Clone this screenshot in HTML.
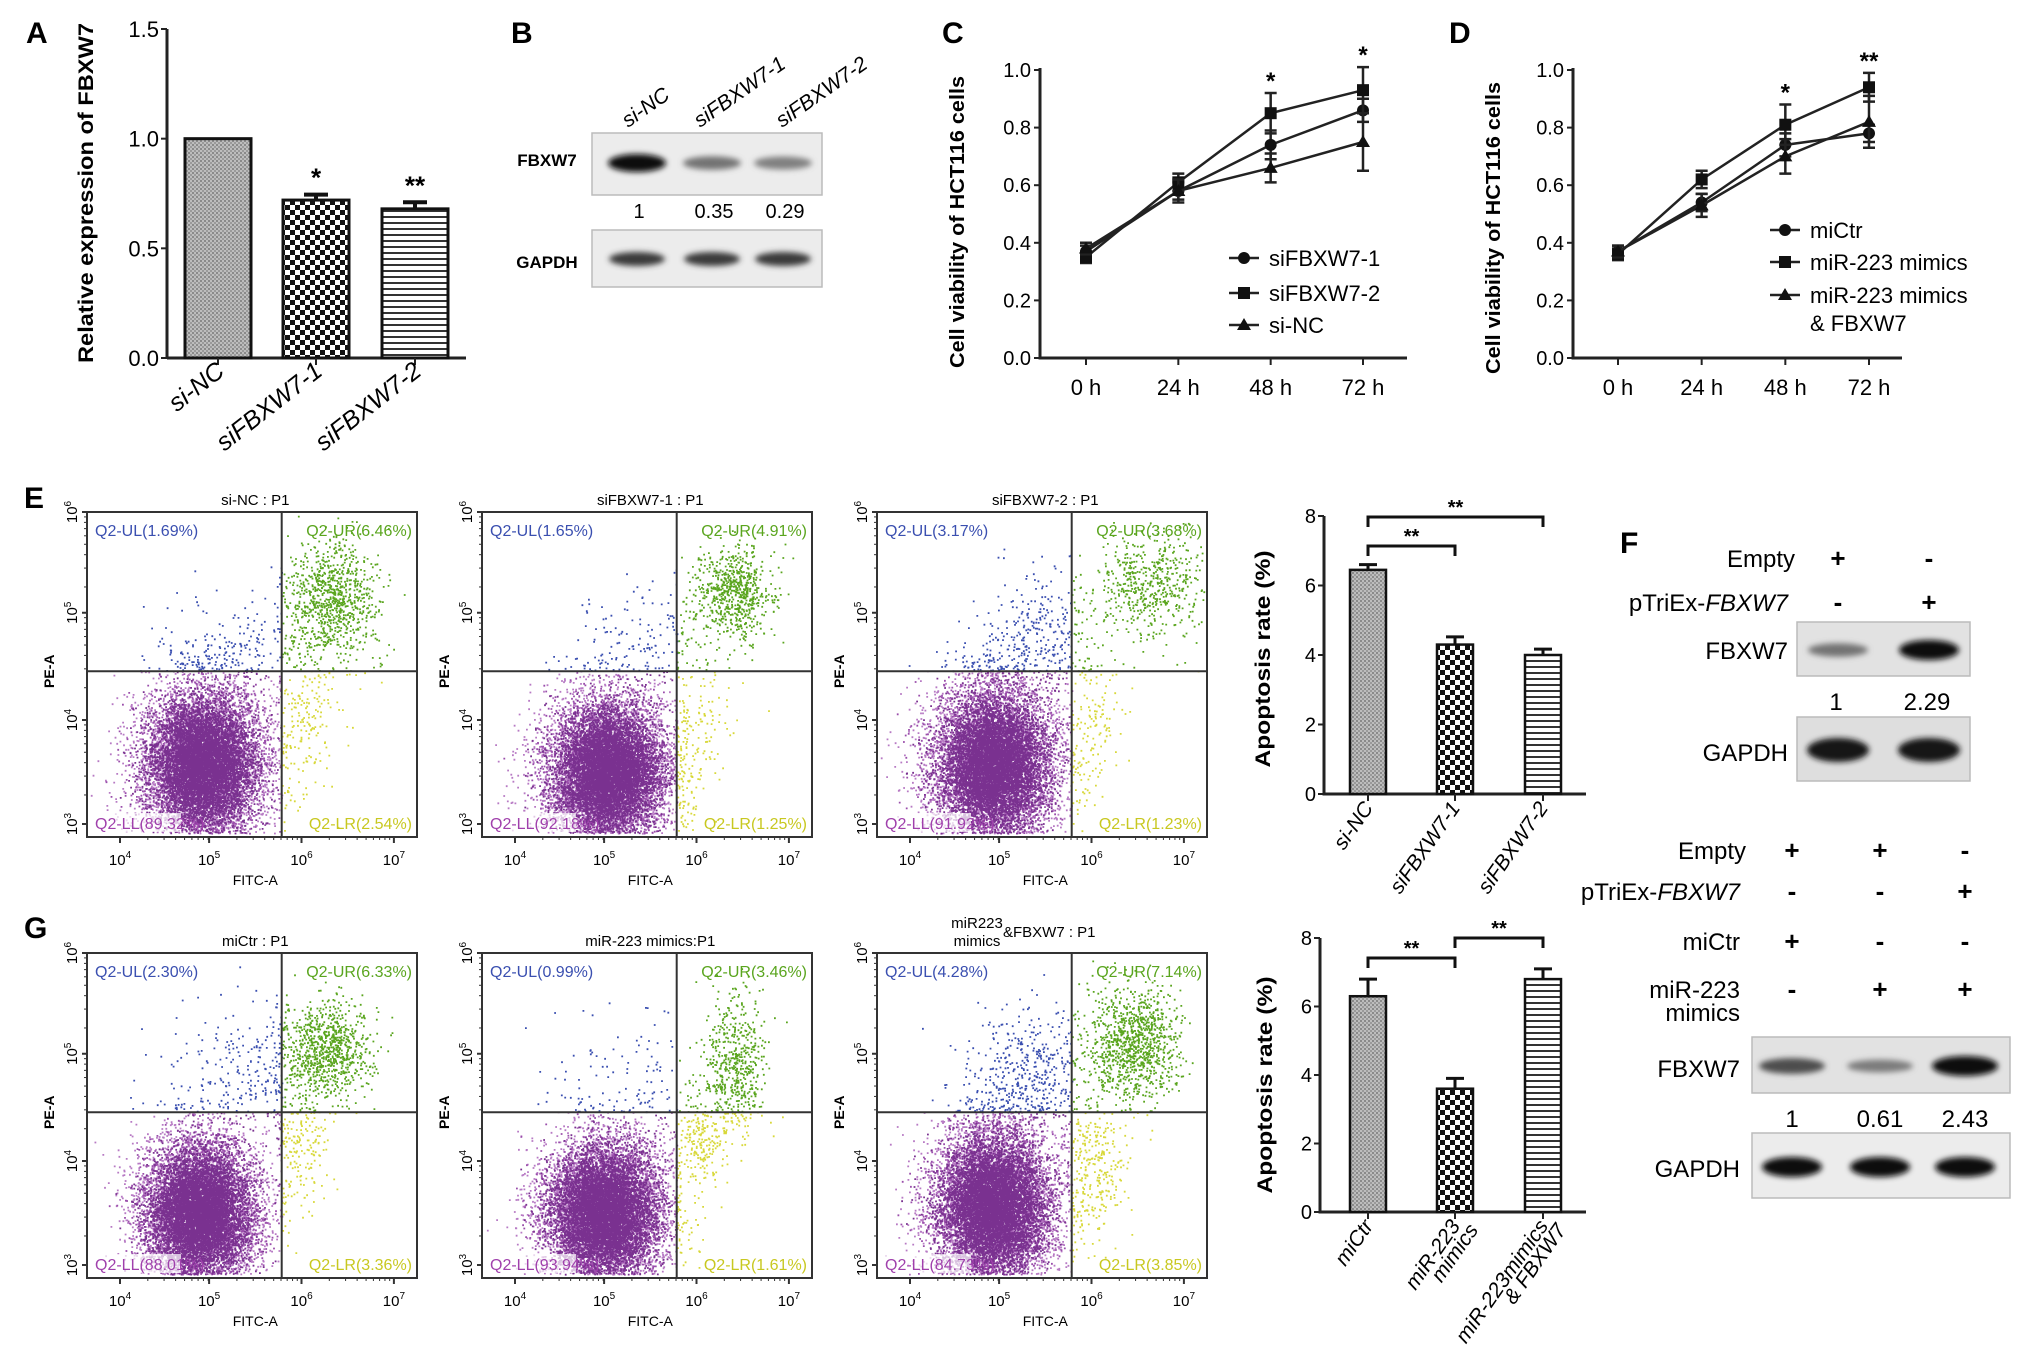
<!DOCTYPE html>
<html><head><meta charset="utf-8">
<style>
html,body{margin:0;padding:0;background:#fff;}
svg{display:block;font-family:"Liberation Sans",Arial,sans-serif;}
.n{font-family:"Liberation Sans Narrow","Liberation Sans",sans-serif;}
</style></head>
<body>
<svg id="fig" width="2031" height="1352" viewBox="0 0 2031 1352" xmlns="http://www.w3.org/2000/svg">
<defs>
<pattern id="patNC" width="4" height="4" patternUnits="userSpaceOnUse"><rect width="4" height="4" fill="#bdbdbd"/><rect width="2" height="2" fill="#8a8a8a"/><rect x="2" y="2" width="2" height="2" fill="#9a9a9a"/></pattern>
<pattern id="patChk" width="10" height="10" patternUnits="userSpaceOnUse"><rect width="10" height="10" fill="#fff"/><rect width="5" height="5" fill="#111"/><rect x="5" y="5" width="5" height="5" fill="#111"/></pattern>
<pattern id="patStr" width="6" height="6" patternUnits="userSpaceOnUse"><rect width="6" height="6" fill="#fff"/><rect y="0" width="6" height="2" fill="#333"/></pattern>
<filter id="blur" x="-50%" y="-50%" width="200%" height="200%"><feGaussianBlur stdDeviation="3"/></filter>
</defs>

<g font-weight="bold" font-size="30">
<text x="26" y="43">A</text>
<text x="511" y="43">B</text>
<text x="942" y="43">C</text>
<text x="1449" y="43">D</text>
<text x="24" y="508">E</text>
<text x="1620" y="553">F</text>
<text x="24" y="938">G</text>
</g>

<g id="gA"></g>
<g id="gB">
<text x="547" y="166" font-size="17" font-weight="bold" text-anchor="middle" class="n">FBXW7</text>
<text x="547" y="268" font-size="17" font-weight="bold" text-anchor="middle" class="n">GAPDH</text>
<text transform="translate(628,128) rotate(-35)" font-size="21" font-style="italic" class="n">si-NC</text>
<text transform="translate(700,128) rotate(-35)" font-size="21" font-style="italic" class="n">siFBXW7-1</text>
<text transform="translate(782,128) rotate(-35)" font-size="21" font-style="italic" class="n">siFBXW7-2</text>
</g>
<g id="gFlow"></g>
<g id="gC"></g>
<g id="gD"></g>
<g id="gE"></g>
<g id="gG"></g>
<g id="gF">
<g font-size="24" class="n" text-anchor="end">
<text x="1795" y="567">Empty</text>
<text x="1788" y="611">pTriEx-<tspan font-style="italic">FBXW7</tspan></text>
<text x="1788" y="659">FBXW7</text>
<text x="1788" y="761">GAPDH</text>
<text x="1746" y="859">Empty</text>
<text x="1740" y="900">pTriEx-<tspan font-style="italic">FBXW7</tspan></text>
<text x="1740" y="950">miCtr</text>
<text x="1740" y="998">miR-223</text>
<text x="1740" y="1021">mimics</text>
<text x="1740" y="1077">FBXW7</text>
<text x="1740" y="1177">GAPDH</text>
</g>
</g>
</svg>

<script>
var SVGNS='http://www.w3.org/2000/svg';
function mk(tag,attrs,parent){var e=document.createElementNS(SVGNS,tag);for(var k in attrs)e.setAttribute(k,attrs[k]);if(parent)parent.appendChild(e);return e;}
function txt(s,attrs,parent){var e=mk('text',attrs,parent);e.textContent=s;return e;}

/* ---------------- Panel A data ---------------- */
var aCategories=['si-NC','siFBXW7-1','siFBXW7-2'];
var aValues=[1.0,0.72,0.68];
var aErrors=[0.0,0.025,0.03];
var aStars=['','*','**'];
var aTicks=[0,0.5,1.0,1.5];
var aTickLabels=['0.0','0.5','1.0','1.5'];

/* ---------------- Panel B data ---------------- */
var bLanes=['si-NC','siFBXW7-1','siFBXW7-2'];
var bRatios=['1','0.35','0.29'];
var bFbxw7Intensity=[1.0,0.45,0.38];

/* ---------------- Panel C data ---------------- */
var cTimes=['0 h','24 h','48 h','72 h'];
var cSeriesNames=['siFBXW7-1','siFBXW7-2','si-NC'];
var cSi1=[0.37,0.58,0.74,0.86];
var cSi2=[0.35,0.61,0.85,0.93];
var cNC=[0.38,0.58,0.66,0.75];
var cSi1Err=[0.02,0.03,0.05,0.04];
var cSi2Err=[0.02,0.03,0.07,0.08];
var cNCErr=[0.02,0.04,0.05,0.10];
var cStars=['','','*','*'];
var lineTicks=[0,0.2,0.4,0.6,0.8,1.0];
var lineTickLabels=['0.0','0.2','0.4','0.6','0.8','1.0'];

/* ---------------- Panel D data ---------------- */
var dTimes=['0 h','24 h','48 h','72 h'];
var dSeriesNames=['miCtr','miR-223 mimics','miR-223 mimics & FBXW7'];
var dMiCtr=[0.37,0.54,0.74,0.78];
var dMimics=[0.36,0.62,0.81,0.94];
var dCombo=[0.37,0.53,0.70,0.82];
var dMiCtrErr=[0.02,0.03,0.04,0.03];
var dMimicsErr=[0.02,0.03,0.07,0.05];
var dComboErr=[0.02,0.04,0.06,0.09];
var dStars=['','','*','**'];

/* ---------------- Panel E / G bar data ---------------- */
var eCategories=['si-NC','siFBXW7-1','siFBXW7-2'];
var eValues=[6.45,4.3,4.0];
var eErrors=[0.15,0.22,0.17];
var gCategories=['miCtr','miR-223 mimics','miR-223mimics & FBXW7'];
var gValues=[6.3,3.6,6.8];
var gErrors=[0.5,0.3,0.3];
var apTicks=[0,2,4,6,8];

/* ---------------- Panel F data ---------------- */
var f1Ratios=['1','2.29'];
var f1Intensity=[0.45,1.0];
var f2Ratios=['1','0.61','2.43'];
var f2Intensity=[0.65,0.4,1.0];

/* ---------------- Flow percentages ---------------- */
var flowTitles=['si-NC : P1','siFBXW7-1 : P1','siFBXW7-2 : P1','miCtr : P1','miR-223 mimics:P1',''];
var flowUL=['1.69','1.65','3.17','2.30','0.99','4.28'];
var flowUR=['6.46','4.91','3.68','6.33','3.46','7.14'];
var flowLL=['89.32','92.18','91.92','88.01','93.94','84.73'];
var flowLR=['2.54','1.25','1.23','3.36','1.61','3.85'];

/* ===== Panel A ===== */
(function(){
 var g=document.getElementById('gA');
 var X0=167,Y0=358,Y1=29,XE=466;
 function y(v){return Y0-(v/1.5)*(Y0-Y1);}
 var cx=[218,316,415],bw=66,fills=['url(#patNC)','url(#patChk)','url(#patStr)'];
 var ax=mk('line',{x1:X0,y1:Y1,x2:X0,y2:Y0,stroke:'#222','stroke-width':3},g);
 
 var xa=mk('line',{x1:X0,y1:Y0,x2:XE,y2:Y0,stroke:'#222','stroke-width':3},g);
 
 aTicks.forEach(function(t,i){
  mk('line',{x1:X0-6,y1:y(t),x2:X0,y2:y(t),stroke:'#222','stroke-width':2},g);
  var tl=txt(aTickLabels[i],{x:X0-8,y:y(t)+8,'font-size':22,'text-anchor':'end','class':'n'},g);
  
 });
 aCategories.forEach(function(c,i){
  var top=y(aValues[i]);
  var r=mk('rect',{x:cx[i]-bw/2,y:top,width:bw,height:Y0-top,fill:fills[i],stroke:'#111','stroke-width':3},g);
  
  if(aErrors[i]>0){
   var e=mk('path',{d:'M'+cx[i]+' '+top+'V'+y(aValues[i]+aErrors[i])+'M'+(cx[i]-12)+' '+y(aValues[i]+aErrors[i])+'H'+(cx[i]+12),stroke:'#111','stroke-width':4,fill:'none'},g);
   
  }
  mk('line',{x1:cx[i],y1:Y0,x2:cx[i],y2:Y0+7,stroke:'#222','stroke-width':2},g);
  if(aStars[i]){var s=txt(aStars[i],{x:cx[i],y:y(aValues[i]+aErrors[i])-8,'font-size':26,'text-anchor':'middle','font-weight':'bold'},g);
   }
  var l=txt(c,{transform:'translate('+(cx[i]+8)+','+(Y0+16)+') rotate(-38)','font-size':25,'text-anchor':'end','font-style':'italic','class':'n'},g);
  
 });
 var yl=txt('Relative expression of FBXW7',{transform:'translate(93,193) rotate(-90)','font-size':21,'font-weight':'bold','text-anchor':'middle',textLength:340,lengthAdjust:'spacingAndGlyphs'},g);
 
})();

/* ===== Blot helpers ===== */
function blotBox(g,x,y,w,h,name,fill){var r=mk('rect',{x:x,y:y,width:w,height:h,fill:fill||'#ececec',stroke:'#bbb','stroke-width':1.5},g);
 return r;}
function band(g,cx,cy,w,h,inten,name){var c=Math.round(200-190*inten);
 var e=mk('ellipse',{cx:cx,cy:cy,rx:w/2,ry:h/2,fill:'rgb('+c+','+c+','+c+')',filter:'url(#blur)'},g);
 }

/* ===== Panel B ===== */
(function(){
 var g=document.getElementById('gB');
 var lx=[637,712,783];
 var b1=blotBox(g,592,133,230,62,'b-fbxw7-blot');g.insertBefore(b1,g.firstChild);
 var b2=blotBox(g,592,230,230,57,'b-gapdh-blot');g.insertBefore(b2,g.firstChild);
 bLanes.forEach(function(l,i){
  band(g,lx[i],163,58,10+8*bFbxw7Intensity[i],bFbxw7Intensity[i],'b-fbxw7-band');
  band(g,lx[i],259,56,14,0.75,'b-gapdh-band');
  var t=txt(bRatios[i],{x:lx[i]+2,y:218,'font-size':20,'text-anchor':'middle','class':'n'},g);
  
 });
})();

/* ===== Line charts ===== */
function marker(g,type,x,y,name){var el;
 if(type==='c')el=mk('circle',{cx:x,cy:y,r:6,fill:'#111'},g);
 else if(type==='s')el=mk('rect',{x:x-6,y:y-6,width:12,height:12,fill:'#111'},g);
 else el=mk('path',{d:'M'+x+' '+(y-7)+'L'+(x+7)+' '+(y+5)+'L'+(x-7)+' '+(y+5)+'Z',fill:'#111'},g);
 }
function lineChart(g,pre,X0,XT,XE,times,series,errs,types,stars,legendNames,legX,legY,ylabX,ylabY,ylabLen){
 var Y0=358,Y1=70;
 function y(v){return Y0-v*(Y0-Y1);}
 function x(i){return XT[0]+i*(XT[1]-XT[0])/(times.length-1);}
 var a=mk('path',{d:'M'+X0+' '+(Y1-2)+'V'+Y0+'H'+XE,stroke:'#222','stroke-width':3,fill:'none'},g);
 
 lineTicks.forEach(function(t,i){mk('line',{x1:X0-6,y1:y(t),x2:X0,y2:y(t),stroke:'#222','stroke-width':2},g);
  var tl=txt(lineTickLabels[i],{x:X0-9,y:y(t)+7,'font-size':20,'text-anchor':'end','class':'n'},g);
  });
 times.forEach(function(t,i){mk('line',{x1:x(i),y1:Y0,x2:x(i),y2:Y0+7,stroke:'#222','stroke-width':2},g);
  var tl=txt(t,{x:x(i),y:395,'font-size':22,'text-anchor':'middle','class':'n'},g);
  });
 series.forEach(function(s,k){
  var d='';s.forEach(function(v,i){d+=(i?'L':'M')+x(i)+' '+y(v);});
  var p=mk('path',{d:d,stroke:'#222','stroke-width':2.5,fill:'none'},g);
  
  s.forEach(function(v,i){var e=errs[k][i];
   var eb=mk('path',{d:'M'+x(i)+' '+y(v-e)+'V'+y(v+e)+'M'+(x(i)-6)+' '+y(v-e)+'H'+(x(i)+6)+'M'+(x(i)-6)+' '+y(v+e)+'H'+(x(i)+6),stroke:'#222','stroke-width':2.5,fill:'none'},g);
   
   marker(g,types[k],x(i),y(v),pre+'-point');});
 });
 stars.forEach(function(st,i){if(!st)return;var top=0;series.forEach(function(s,k){top=Math.max(top,s[i]+errs[k][i]);});
  var t=txt(st,{x:x(i),y:y(top)-4,'font-size':24,'text-anchor':'middle','font-weight':'bold'},g);
  });
 legendNames.forEach(function(n,k){var ly=legY[k];
  var ll=mk('line',{x1:legX,y1:ly,x2:legX+30,y2:ly,stroke:'#222','stroke-width':2.5},g);
  
  marker(g,types[k],legX+15,ly,pre+'-legend-marker');
  var lines=n.split('\n');lines.forEach(function(tx,j){
   var t=txt(tx,{x:legX+40,y:ly+8+j*28,'font-size':22,'class':'n'},g);
   });
 });
 var yl=txt('Cell viability of HCT116 cells',{transform:'translate('+ylabX+','+ylabY+') rotate(-90)','font-size':20,'font-weight':'bold','text-anchor':'middle',textLength:ylabLen,lengthAdjust:'spacingAndGlyphs'},g);
 
}
lineChart(document.getElementById('gC'),'c',1040,[1086,1363],1407,cTimes,[cSi1,cSi2,cNC],[cSi1Err,cSi2Err,cNCErr],['c','s','t'],cStars,cSeriesNames,1229,[258,293,325],964,222,292);
lineChart(document.getElementById('gD'),'d',1573,[1618,1869],1902,dTimes,[dMiCtr,dMimics,dCombo],[dMiCtrErr,dMimicsErr,dComboErr],['c','s','t'],dStars,['miCtr','miR-223 mimics','miR-223 mimics\n& FBXW7'],1770,[230,262,295],1500,228,292);

/* ===== Apoptosis bar charts ===== */
function apBars(g,pre,X0,Y0,Y1,XE,cats,vals,errs,brackets,ylabX,ylabY,labelLines){
 function y(v){return Y0-v/8*(Y0-Y1);}
 var cx=[1368,1455,1543],bw=36,fills=['url(#patNC)','url(#patChk)','url(#patStr)'];
 var a=mk('path',{d:'M'+X0+' '+Y1+'V'+Y0+'H'+XE,stroke:'#222','stroke-width':3,fill:'none'},g);
 
 apTicks.forEach(function(t){mk('line',{x1:X0-6,y1:y(t),x2:X0,y2:y(t),stroke:'#222','stroke-width':2},g);
  var tl=txt(String(t),{x:X0-8,y:y(t)+7,'font-size':20,'text-anchor':'end','class':'n'},g);
  });
 cats.forEach(function(c,i){var top=y(vals[i]);
  var r=mk('rect',{x:cx[i]-bw/2,y:top,width:bw,height:Y0-top,fill:fills[i],stroke:'#111','stroke-width':2.5},g);
  
  var e=mk('path',{d:'M'+cx[i]+' '+top+'V'+y(vals[i]+errs[i])+'M'+(cx[i]-9)+' '+y(vals[i]+errs[i])+'H'+(cx[i]+9),stroke:'#111','stroke-width':3,fill:'none'},g);
  
  mk('line',{x1:cx[i],y1:Y0,x2:cx[i],y2:Y0+7,stroke:'#222','stroke-width':2},g);
  labelLines[i].forEach(function(tx,j){
   var l=txt(tx,{transform:'translate('+(cx[i]+6+j*18)+','+(Y0+14+j*4)+') rotate(-55)','font-size':21,'text-anchor':'end','font-style':'italic','class':'n'},g);
   });
 });
 brackets.forEach(function(b){var x1=cx[b[0]],x2=cx[b[1]],by=b[2];
  var p=mk('path',{d:'M'+x1+' '+(by+10)+'V'+by+'H'+x2+'V'+(by+10),stroke:'#111','stroke-width':3,fill:'none'},g);
  
  var t=txt('**',{x:(x1+x2)/2,y:by-3,'font-size':20,'text-anchor':'middle','font-weight':'bold'},g);
  });
 var yl=txt('Apoptosis rate (%)',{transform:'translate('+ylabX+','+ylabY+') rotate(-90)','font-size':21,'font-weight':'bold','text-anchor':'middle',textLength:217,lengthAdjust:'spacingAndGlyphs'},g);
 
}
apBars(document.getElementById('gE'),'e',1324,794,516,1586,eCategories,eValues,eErrors,[[0,1,546],[0,2,517]],1270,659,[['si-NC'],['siFBXW7-1'],['siFBXW7-2']]);
apBars(document.getElementById('gG'),'g',1320,1212,938,1586,gCategories,gValues,gErrors,[[0,1,958],[1,2,938]],1272,1085,[['miCtr'],['miR-223','mimics'],['miR-223mimics','& FBXW7']]);

/* ===== Panel F ===== */
(function(){
 var g=document.getElementById('gF');
 var l1=[1838,1929];
 [['+','-'],['-','+']].forEach(function(row,r){row.forEach(function(s,i){
  var t=txt(s,{x:l1[i],y:[567,611][r],'font-size':26,'text-anchor':'middle','font-weight':'bold'},g);
  });});
 blotBox(g,1797,622,173,54,'f1-fbxw7-blot','#e2e2e2');
 blotBox(g,1797,717,173,64,'f1-gapdh-blot','#dedede');
 f1Ratios.forEach(function(r,i){
  band(g,l1[i],650,60,8+12*f1Intensity[i],f1Intensity[i],'f1-fbxw7-band');
  band(g,l1[i],750,62,24,0.95,'f1-gapdh-band');
  var t=txt(r,{x:l1[i]-2,y:710,'font-size':24,'text-anchor':'middle','class':'n'},g);
  });
 var l2=[1792,1880,1965];
 var signs=[['+','+','-'],['-','-','+'],['+','-','-'],['-','+','+']];var ys=[859,900,950,998];
 signs.forEach(function(row,r){row.forEach(function(s,i){
  var t=txt(s,{x:l2[i],y:ys[r],'font-size':26,'text-anchor':'middle','font-weight':'bold'},g);
  });});
 blotBox(g,1752,1037,258,56,'f2-fbxw7-blot','#e2e2e2');
 blotBox(g,1752,1133,258,65,'f2-gapdh-blot');
 f2Ratios.forEach(function(r,i){
  band(g,l2[i],1066,66,8+12*f2Intensity[i],f2Intensity[i],'f2-fbxw7-band');
  band(g,l2[i],1167,60,20,1.0,'f2-gapdh-band');
  var t=txt(r,{x:l2[i],y:1127,'font-size':24,'text-anchor':'middle','class':'n'},g);
  });
})();

/* ===== Flow cytometry ===== */
(function(){
 var g=document.getElementById('gFlow');
 var seed=12345;function rnd(){seed|=0;seed=seed+0x6D2B79F5|0;var t=Math.imul(seed^seed>>>15,1|seed);t=t+Math.imul(t^t>>>7,61|t)^t;return((t^t>>>14)>>>0)/4294967296;}
 function gauss(){var u=rnd()||1e-9,v=rnd();return Math.sqrt(-2*Math.log(u))*Math.cos(2*Math.PI*v);}
 var boxes=[[87,512],[482,512],[877,512],[87,953],[482,953],[877,953]];
 var W=330,H=325,DX=0.59,DY=0.49;
 var clusters=[
  [[0.35,0.78,0.09,0.12,12000],[0.74,0.27,0.07,0.09,900],[0.48,0.42,0.12,0.1,200],[0.66,0.62,0.05,0.1,160]],
  [[0.38,0.80,0.09,0.11,12000],[0.76,0.25,0.06,0.07,700],[0.52,0.42,0.12,0.1,200],[0.66,0.65,0.05,0.1,90]],
  [[0.35,0.78,0.09,0.12,12000],[0.83,0.22,0.08,0.08,550],[0.50,0.40,0.1,0.12,400],[0.66,0.65,0.05,0.1,90]],
  [[0.34,0.80,0.085,0.11,12000],[0.72,0.30,0.07,0.08,900],[0.48,0.40,0.12,0.12,260],[0.64,0.60,0.05,0.1,200]],
  [[0.37,0.80,0.09,0.11,12000],[0.76,0.35,0.05,0.12,550],[0.45,0.40,0.12,0.12,130],[0.66,0.58,0.04,0.06,200]],
  [[0.35,0.78,0.09,0.12,12000],[0.78,0.28,0.07,0.09,1000],[0.48,0.38,0.1,0.12,500],[0.66,0.65,0.05,0.1,260]]];
 var cols={UL:'#3a4fb0',UR:'#5aa51e',LL:'#b77ac4',LLM:'#9a4eab',LLD:'#7a3190',LR:'#d8d83a'};
 boxes.forEach(function(b,p){
  var x0=b[0],y0=b[1],dx=x0+W*DX,dy=y0+H*DY;
  var paths={UL:'',UR:'',LL:'',LLM:'',LLD:'',LR:''};
  clusters[p].forEach(function(c){for(var k=0;k<c[4];k++){
   var gx=gauss(),gy=gauss();
   var rx=c[0]+gx*c[2],ry=c[1]+gy*c[3];
   if(rx<0.01||rx>0.99||ry<0.01||ry>0.99)continue;
   var px=x0+rx*W,py=y0+ry*H;var q=(py<dy?'U':'L')+(px<dx?'L':'R');
   if(q==='LL'){var r2=gx*gx+gy*gy,u=rnd();
    if(u<Math.exp(-r2/3.2))q='LLD';else if(u<Math.exp(-r2/6))q='LLM';}
   paths[q]+='M'+px.toFixed(1)+' '+py.toFixed(1)+'h1.8';}});
  ['LL','LLM','LLD','UL','UR','LR'].forEach(function(q){var pa=mk('path',{d:paths[q],stroke:cols[q],'stroke-width':1.8,fill:'none'},g);
   });
  var fr=mk('rect',{x:x0,y:y0,width:W,height:H,fill:'none',stroke:'#333','stroke-width':2},g);
  
  var qd=mk('path',{d:'M'+dx+' '+y0+'V'+(y0+H)+'M'+x0+' '+dy+'H'+(x0+W),stroke:'#333','stroke-width':2,fill:'none'},g);
  
  var yt=[0,0.31,0.64,0.96],yl=['6','5','4','3'];
  yt.forEach(function(t,i){var yy=y0+t*H;mk('line',{x1:x0-5,y1:yy,x2:x0,y2:yy,stroke:'#333','stroke-width':2},g);
   var tt=mk('text',{transform:'translate('+(x0-10)+','+yy+') rotate(-90)','font-size':15,'text-anchor':'middle','class':'n'},g);
   tt.textContent='10';var sp=mk('tspan',{dy:-6,'font-size':10},tt);sp.textContent=yl[i];
   
   for(var m=1;m<9&&i<3;m++){var my=yy+(1-Math.log10(10-m))*0.33*H;mk('line',{x1:x0-3,y1:my,x2:x0,y2:my,stroke:'#333','stroke-width':1},g);}});
  var xt=[0.1,0.37,0.65,0.93],xl=['4','5','6','7'];
  xt.forEach(function(t,i){var xx=x0+t*W;mk('line',{x1:xx,y1:y0+H,x2:xx,y2:y0+H+6,stroke:'#333','stroke-width':2},g);
   var tt=mk('text',{x:xx,y:y0+H+28,'font-size':15,'text-anchor':'middle','class':'n'},g);
   tt.textContent='10';var sp=mk('tspan',{dy:-7,'font-size':10},tt);sp.textContent=xl[i];
   
   for(var m=2;m<10&&i<3;m++){var mx=xx+Math.log10(m)*0.28*W;mk('line',{x1:mx,y1:y0+H,x2:mx,y2:y0+H+3,stroke:'#333','stroke-width':1},g);}});
  var xa=txt('FITC-A',{x:x0+W*0.51,y:y0+H+48,'font-size':14,'text-anchor':'middle','class':'n'},g);
  
  var ya=txt('PE-A',{transform:'translate('+(x0-33)+','+(y0+H*0.49)+') rotate(-90)','font-size':14,'text-anchor':'middle','font-weight':'bold','class':'n'},g);
  
  if(flowTitles[p]){var ti=txt(flowTitles[p],{x:x0+W*0.51,y:y0-7,'font-size':15,'text-anchor':'middle','class':'n'},g);
   }
  var bg=mk('rect',{x:x0+6,y:y0+H-24,width:88,height:19,fill:'#fff','fill-opacity':0.7},g);
  
  var q1=txt('Q2-UL('+flowUL[p]+'%)',{x:x0+8,y:y0+24,'font-size':16,fill:'#3a4fb0','class':'n'},g);
  
  var q2=txt('Q2-UR('+flowUR[p]+'%)',{x:x0+W-5,y:y0+24,'font-size':16,fill:'#5aa51e','text-anchor':'end','class':'n'},g);
  
  var q3=txt('Q2-LL('+flowLL[p]+'%)',{x:x0+8,y:y0+H-8,'font-size':16,fill:'#a040ac','class':'n'},g);
  
  var q4=txt('Q2-LR('+flowLR[p]+'%)',{x:x0+W-5,y:y0+H-8,'font-size':16,fill:'#c8c820','text-anchor':'end','class':'n'},g);
  
 });
 var t1=txt('miR223',{x:977,y:928,'font-size':15,'text-anchor':'middle','class':'n'},g);
 
 var t2=txt('mimics',{x:977,y:946,'font-size':15,'text-anchor':'middle','class':'n'},g);
 
 var t3=txt('&FBXW7 : P1',{x:1003,y:937,'font-size':15,'class':'n'},g);
 
})();
</script>
</body></html>
